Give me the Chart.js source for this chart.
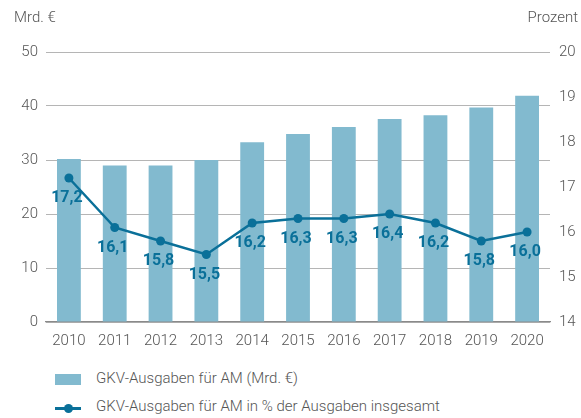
<!DOCTYPE html>
<html>
<head>
<meta charset="utf-8">
<script src="https://cdn.jsdelivr.net/npm/chart.js@4"></script>
<style>
  body { margin: 0; background: #fff; }
  #wrap { position: relative; width: 581px; height: 418px; font-family: Roboto, 'Liberation Sans', sans-serif; }
  canvas { position: absolute; left: 0; top: 0; }
  .leg { position: absolute; left: 55px; font-size: 15px; font-weight: 300; color: #555; white-space: nowrap; }
  .leg .sw { position: absolute; left: 0; }
  .leg span.txt { position: absolute; left: 41px; top: 0; }
</style>
</head>
<body>
<div id="wrap">
  <canvas id="chart" width="581" height="352"></canvas>
  <div id="legend"></div>
</div>
<script>
var years = ['2010', '2011', '2012', '2013', '2014', '2015', '2016', '2017', '2018', '2019', '2020'];
var spending = [30.2, 29.0, 29.0, 30.0, 33.3, 34.8, 36.1, 37.6, 38.3, 39.7, 41.9];
var share = [17.2, 16.1, 15.8, 15.5, 16.2, 16.3, 16.3, 16.4, 16.2, 15.8, 16.0];
var leftTicks = [0, 10, 20, 30, 40, 50];
var rightTicks = [14, 15, 16, 17, 18, 19, 20];

var barColor = '#82bacf';
var lineColor = '#0a7099';
var tickColor = '#555555';

// draws "17,2" style labels under the line points and the two axis titles
var extras = {
    id: 'extras',
    afterDatasetsDraw: function (chart) {
        var ctx = chart.ctx;
        var meta = chart.getDatasetMeta(1);
        ctx.save();
        ctx.fillStyle = lineColor;
        ctx.font = 'bold 16px Roboto, "Liberation Sans", sans-serif';
        ctx.textAlign = 'center';
        ctx.textBaseline = 'middle';
        meta.data.forEach(function (pt, i) {
            var txt = share[i].toFixed(1).replace('.', ',');
            ctx.fillText(txt, pt.x - 2, pt.y + 20);
        });
        ctx.font = '300 15px Roboto, "Liberation Sans", sans-serif';
        ctx.fillStyle = tickColor;
        ctx.textAlign = 'left';
        ctx.fillText('Mrd. \u20ac', 14, 18);
        ctx.textAlign = 'right';
        ctx.fillText('Prozent', 578, 18);
        ctx.restore();
    }
};

new Chart(document.getElementById('chart').getContext('2d'), {
    data: {
        labels: years,
        datasets: [
            {
                type: 'bar',
                label: 'GKV-Ausgaben f\u00fcr AM (Mrd. \u20ac)',
                data: spending,
                yAxisID: 'y',
                backgroundColor: barColor,
                barPercentage: 0.52,
                categoryPercentage: 1,
                order: 2
            },
            {
                type: 'line',
                label: 'GKV-Ausgaben f\u00fcr AM in % der Ausgaben insgesamt',
                data: share,
                yAxisID: 'y1',
                borderColor: lineColor,
                backgroundColor: lineColor,
                borderWidth: 2.5,
                pointRadius: 4.5,
                pointBackgroundColor: lineColor,
                pointBorderWidth: 0,
                tension: 0,
                order: 1
            }
        ]
    },
    options: {
        responsive: false,
        animation: false,
        layout: { padding: { top: 52, left: 0, right: 0, bottom: 0 } },
        plugins: {
            legend: { display: false },
            tooltip: { enabled: false }
        },
        scales: {
            x: {
                grid: { display: false, drawTicks: false },
                border: { color: '#8a8a8a', width: 1.2 },
                ticks: {
                    color: tickColor,
                    padding: 10,
                    maxRotation: 0,
                    font: { family: 'Roboto', size: 15, weight: '300' }
                },
                afterFit: function (scale) { scale.height = 30; }
            },
            y: {
                position: 'left',
                min: 0,
                max: 50,
                afterBuildTicks: function (scale) {
                    scale.ticks = leftTicks.map(function (v) { return { value: v }; });
                },
                grid: {
                    color: '#b5b5b5',
                    drawTicks: false
                },
                border: { display: false },
                ticks: {
                    color: tickColor,
                    padding: 8,
                    font: { family: 'Roboto', size: 15, weight: '300' }
                },
                afterFit: function (scale) { scale.width = 46; }
            },
            y1: {
                position: 'right',
                min: 14,
                max: 20,
                afterBuildTicks: function (scale) {
                    scale.ticks = rightTicks.map(function (v) { return { value: v }; });
                },
                grid: { display: false, drawTicks: false },
                border: { display: false },
                ticks: {
                    color: tickColor,
                    padding: 9,
                    font: { family: 'Roboto', size: 15, weight: '300' }
                },
                afterFit: function (scale) { scale.width = 31; }
            }
        }
    },
    plugins: [extras]
});

// legend below the chart, left aligned like the original
var legend = document.getElementById('legend');
legend.innerHTML =
    '<div class="leg" style="top:369px"><div class="sw" style="top:5px;width:26px;height:11px;background:' + barColor + '"></div>' +
    '<span class="txt">' + 'GKV-Ausgaben f\u00fcr AM (Mrd. \u20ac)' + '</span></div>' +
    '<div class="leg" style="top:397px"><div class="sw" style="top:10px;width:26px;height:2.5px;background:' + lineColor + '"></div>' +
    '<div class="sw" style="top:7px;left:9px;width:9px;height:9px;border-radius:50%;background:' + lineColor + '"></div>' +
    '<span class="txt">' + 'GKV-Ausgaben f\u00fcr AM in % der Ausgaben insgesamt' + '</span></div>';
</script>
</body>
</html>
